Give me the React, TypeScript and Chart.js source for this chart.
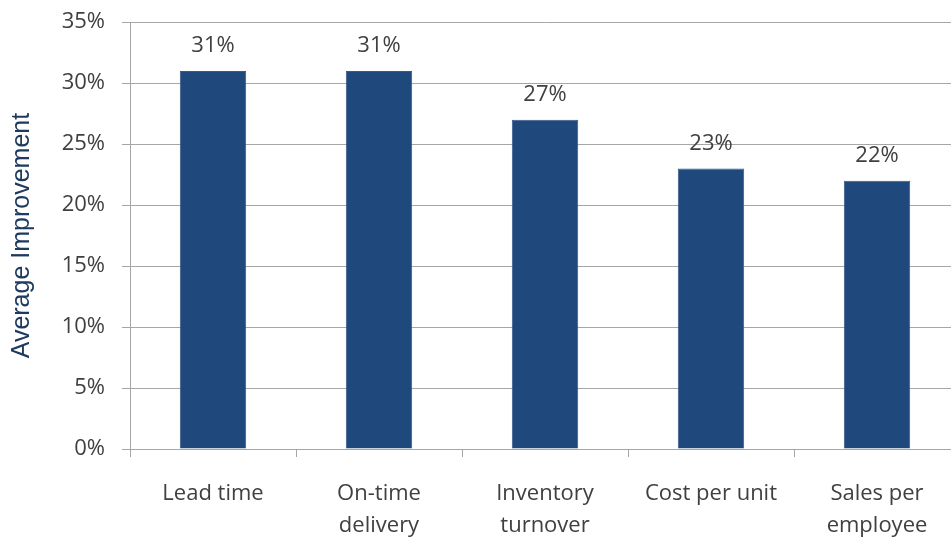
import React, { useEffect, useRef } from "react";
import { Chart, registerables } from "chart.js";

Chart.register(...registerables);

const categories: string[][] = [
  ["Lead time"],
  ["On-time", "delivery"],
  ["Inventory", "turnover"],
  ["Cost per unit"],
  ["Sales per", "employee"],
];
const improvement: number[] = [31, 31, 27, 23, 22];
const yTicks: number[] = [0, 5, 10, 15, 20, 25, 30, 35];

const BAR_COLOR = "#1F487C";
const TEXT_COLOR = "#404040";
const GRID_COLOR = "#A6A6A6";
const LABEL_FONT = "'Open Sans', Lato, sans-serif";

const valueLabels = {
  id: "valueLabels",
  afterDatasetsDraw(chart: any) {
    const ctx = chart.ctx;
    const meta = chart.getDatasetMeta(0);
    ctx.save();
    ctx.font = `22px ${LABEL_FONT}`;
    ctx.fillStyle = TEXT_COLOR;
    ctx.textAlign = "center";
    ctx.textBaseline = "alphabetic";
    meta.data.forEach((bar: any, i: number) => {
      ctx.fillText(`${improvement[i]}%`, bar.x, bar.y - 19);
    });
    ctx.restore();
  },
};

export default function App() {
  const canvasRef = useRef<HTMLCanvasElement | null>(null);

  useEffect(() => {
    if (!canvasRef.current) return;
    const chart = new Chart(canvasRef.current, {
      type: "bar",
      data: {
        labels: categories,
        datasets: [
          {
            data: improvement,
            backgroundColor: BAR_COLOR,
            borderColor: "#35598A",
            borderWidth: 1,
            categoryPercentage: 1,
            barPercentage: 0.4,
          },
        ],
      },
      plugins: [valueLabels],
      options: {
        responsive: false,
        animation: false,
        layout: { padding: { top: 14, right: 0, bottom: 0, left: 0 } },
        plugins: {
          legend: { display: false },
          tooltip: { enabled: false },
        },
        scales: {
          x: {
            grid: {
              offset: true,
              drawOnChartArea: false,
              drawTicks: true,
              tickLength: 8,
              color: GRID_COLOR,
            },
            border: { display: true, color: GRID_COLOR },
            ticks: {
              color: TEXT_COLOR,
              font: { family: LABEL_FONT, size: 22, lineHeight: 1.45 },
              padding: 21,
              maxRotation: 0,
              autoSkip: false,
            },
            afterFit(scale: any) {
              scale.height = 88;
            },
          },
          y: {
            min: 0,
            max: 35,
            afterBuildTicks(scale: any) {
              scale.ticks = yTicks.map((v) => ({ value: v }));
            },
            grid: {
              color: GRID_COLOR,
              tickLength: 8,
            },
            border: { display: true, color: GRID_COLOR },
            ticks: {
              color: TEXT_COLOR,
              font: { family: LABEL_FONT, size: 22 },
              padding: 17,
              callback: (v: any) => `${v}%`,
            },
            title: {
              display: true,
              text: "Average Improvement",
              color: "#1F3A60",
              font: { family: "'Liberation Sans', Arial, sans-serif", size: 25 },
              padding: { top: 7, bottom: 0 },
            },
            afterFit(scale: any) {
              scale.width = 130;
            },
          },
        },
      },
    });
    return () => chart.destroy();
  }, []);

  return (
    <div
      style={{
        position: "fixed",
        left: 0,
        top: 0,
        width: 951,
        height: 537,
        overflow: "hidden",
        background: "#fff",
      }}
    >
      <canvas
        ref={canvasRef}
        width={960}
        height={545}
        style={{ position: "absolute", left: 0, top: -8 }}
      />
    </div>
  );
}
